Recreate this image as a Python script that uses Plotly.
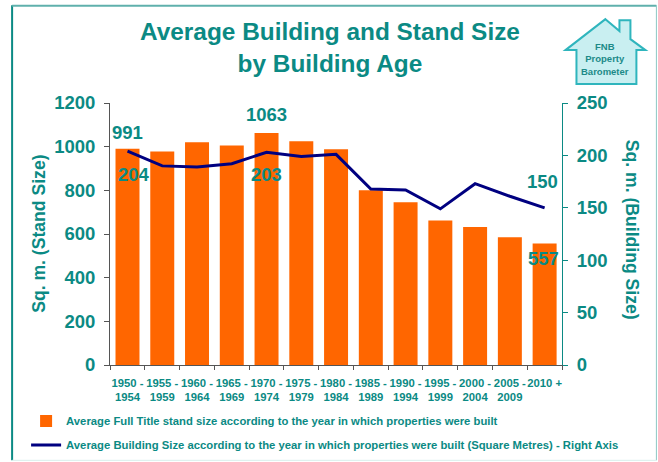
import plotly.graph_objects as go

categories = ["1950 -<br>1954", "1955 -<br>1959", "1960 -<br>1964", "1965 -<br>1969", "1970 -<br>1974",
              "1975 -<br>1979", "1980 -<br>1984", "1985 -<br>1989", "1990 -<br>1994", "1995 -<br>1999",
              "2000 -<br>2004", "2005 -<br>2009", "2010 +"]
stand_size = [991, 978, 1020, 1005, 1063, 1025, 988, 800, 745, 662, 632, 585, 557]
building_size = [204, 190, 189, 192, 203, 199, 201, 168, 167, 149, 173, 161, 150]
stand_name = "Average Full Title stand size according to the year in which properties were built"
building_name = "Average Building Size according to the year in which properties were built (Square Metres) - Right Axis"

TEAL = "#0b8a84"
ORANGE = "#ff6600"
NAVY = "#000080"
FONT = "Liberation Sans, Arial, sans-serif"
L, R, T, B = 110, 562.5, 103, 365.5
W, H = 658, 462


def px(x):
    return (x - L) / (R - L)


def py(y):
    return (B - y) / (B - T)


def path(points):
    return "M " + " L ".join(f"{px(a):.4f},{py(b):.4f}" for a, b in points) + " Z"


fig = go.Figure()
fig.add_bar(x=categories, y=stand_size, name=stand_name, marker_color=ORANGE, marker_line_width=0,
            legendgroup="a", yaxis="y")
fig.add_scatter(x=categories, y=building_size, name=building_name, mode="lines", yaxis="y2",
                line=dict(color=NAVY, width=3), legendgroup="b")


def label(i, series, axis, dx, dy):
    return dict(x=categories[i], y=series[i], yref=axis, xref="x", text=str(series[i]), showarrow=False,
                xanchor="center", yanchor="middle",
                xshift=dx, yshift=dy, font=dict(family=FONT, size=18.5, color=TEAL, weight="bold"))


def free_text(x, y, text, font, angle=0):
    return dict(xref="paper", yref="paper", x=px(x), y=py(y), showarrow=False, text=text, font=font,
                textangle=angle, xanchor="center", yanchor="middle")


title_font = dict(family=FONT, size=17.6, color=TEAL, weight="bold")

annotations = [
    label(0, stand_size, "y", 0, 16),
    label(0, building_size, "y2", 6, -23),
    label(4, stand_size, "y", 0, 18),
    label(4, building_size, "y2", 0, -22),
    label(12, building_size, "y2", -2, 26),
    label(12, stand_size, "y", -1, -15),
    free_text(330, 47, "Average Building and Stand Size<br>by Building Age",
              dict(family=FONT, size=24.4, color=TEAL, weight="bold")),
    free_text(606, 59, "FNB<br>Property<br>Barometer",
              dict(family=FONT, size=9.5, color="#1c8a88", weight="bold")),
    free_text(632, 230.5, "Sq. m. (Building Size)", title_font, 90),
    free_text(39, 234, "Sq. m. (Stand Size)", title_font, -90),
]

house = [(606, 19), (620, 31), (620, 20), (631, 20), (631, 39), (646, 50), (637, 50), (637, 84),
         (577, 84), (577, 50), (566, 50)]

shapes = [
    dict(type="path", xref="paper", yref="paper", path=path(house), fillcolor="#c9eff1",
         line=dict(color="#2fb5bd", width=2)),
    dict(type="line", xref="paper", yref="paper", x0=px(12), x1=px(12), y0=py(5), y1=py(461),
         line=dict(color=TEAL, width=2)),
    dict(type="line", xref="paper", yref="paper", x0=px(12), x1=px(657), y0=py(5.5), y1=py(5.5),
         line=dict(color="#5fb0ac", width=2)),
    dict(type="line", xref="paper", yref="paper", x0=px(657), x1=px(657), y0=py(5), y1=py(461),
         line=dict(color="#8cc8c4", width=1)),
    dict(type="line", xref="paper", yref="paper", x0=px(12), x1=px(657), y0=py(461), y1=py(461),
         line=dict(color="#d8eeec", width=1)),
]

tick_font = dict(family=FONT, size=18.5, color=TEAL, weight="bold")

fig.update_layout(
    width=W, height=H, autosize=False,
    margin=dict(l=L, r=W - R, t=T, b=H - B, pad=0, autoexpand=False),
    paper_bgcolor="white", plot_bgcolor="white",
    bargap=0.31,
    showlegend=True,
    legend=dict(x=px(26), y=py(407), xanchor="left", yanchor="top", orientation="v",
                font=dict(family=FONT, size=11.3, color=TEAL, weight="bold"),
                tracegroupgap=5, bgcolor="rgba(0,0,0,0)", itemwidth=30,
                traceorder="grouped"),
    xaxis=dict(type="category", tickson="boundaries", ticks="outside", ticklen=4, tickcolor="#555555",
               showline=True, linecolor="#555555", linewidth=1, showgrid=False, tickangle=0,
               automargin=False, ticklabelstandoff=7,
               tickfont=dict(family=FONT, size=11.3, color=TEAL, weight="bold")),
    yaxis=dict(range=[0, 1200], tick0=0, dtick=200, ticks="outside", ticklen=5, tickcolor="#555555",
               showline=True, linecolor="#555555", linewidth=1, showgrid=False, zeroline=False,
               automargin=False, ticklabelstandoff=5, tickfont=tick_font),
    yaxis2=dict(range=[0, 250], tick0=0, dtick=50, overlaying="y", side="right", ticks="outside", ticklen=5,
                tickcolor=TEAL, showline=True, linecolor=TEAL, linewidth=1, showgrid=False, zeroline=False,
                automargin=False, ticklabelstandoff=5, tickfont=tick_font),
    annotations=annotations,
    shapes=shapes,
)

fig.write_html("out.html", config={"displayModeBar": False},
               post_script="document.body.style.margin = '0';")
